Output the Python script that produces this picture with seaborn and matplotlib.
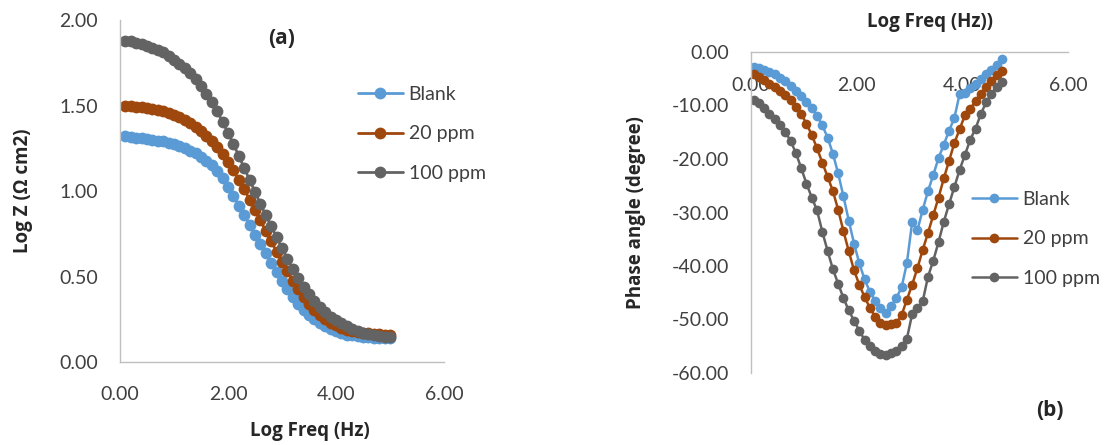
import matplotlib
matplotlib.use("Agg")
import matplotlib.pyplot as plt
from matplotlib.ticker import FormatStrFormatter
import seaborn as sns
import pandas as pd

# ---- Bode modulus data: log frequency vs log |Z| ----
logf_mod = [0.1, 0.2, 0.3, 0.4, 0.5, 0.6, 0.7, 0.8, 0.9, 1.0,
            1.1, 1.2, 1.3, 1.4, 1.5, 1.6, 1.7, 1.8, 1.9, 2.0,
            2.1, 2.2, 2.3, 2.4, 2.5, 2.6, 2.7, 2.8, 2.9, 3.0,
            3.1, 3.2, 3.3, 3.4, 3.5, 3.6, 3.7, 3.8, 3.9, 4.0,
            4.1, 4.2, 4.3, 4.4, 4.5, 4.6, 4.7, 4.8, 4.9, 5.0]
logz_blank = [1.32, 1.315, 1.31, 1.31, 1.305, 1.30, 1.295, 1.29, 1.28, 1.275,
              1.265, 1.25, 1.235, 1.22, 1.20, 1.175, 1.15, 1.115, 1.075, 1.025,
              0.97, 0.915, 0.86, 0.80, 0.745, 0.69, 0.635, 0.58, 0.525, 0.475,
              0.425, 0.38, 0.34, 0.305, 0.275, 0.25, 0.23, 0.21, 0.195, 0.18,
              0.17, 0.16, 0.155, 0.15, 0.147, 0.145, 0.143, 0.141, 0.14, 0.14]
logz_20 = [1.50, 1.497, 1.493, 1.49, 1.485, 1.48, 1.473, 1.465, 1.455, 1.445,
           1.43, 1.415, 1.395, 1.375, 1.35, 1.32, 1.29, 1.255, 1.215, 1.17,
           1.12, 1.065, 1.01, 0.95, 0.89, 0.83, 0.765, 0.705, 0.645, 0.585,
           0.53, 0.475, 0.425, 0.38, 0.34, 0.305, 0.275, 0.25, 0.23, 0.215,
           0.20, 0.19, 0.183, 0.177, 0.172, 0.168, 0.165, 0.162, 0.16, 0.158]
logz_100 = [1.88, 1.875, 1.868, 1.86, 1.85, 1.838, 1.825, 1.81, 1.79, 1.768,
            1.745, 1.718, 1.69, 1.655, 1.615, 1.57, 1.52, 1.465, 1.405, 1.34,
            1.275, 1.205, 1.135, 1.065, 0.995, 0.925, 0.86, 0.795, 0.73, 0.665,
            0.605, 0.545, 0.49, 0.44, 0.395, 0.355, 0.32, 0.29, 0.265, 0.245,
            0.228, 0.212, 0.195, 0.183, 0.172, 0.164, 0.158, 0.153, 0.149, 0.146]

# ---- Bode phase data: log frequency vs phase angle ----
logf_ph = [0.05, 0.15, 0.25, 0.35, 0.45, 0.55, 0.65, 0.75, 0.85, 0.95,
           1.05, 1.15, 1.25, 1.35, 1.45, 1.55, 1.65, 1.75, 1.85, 1.95,
           2.05, 2.15, 2.25, 2.35, 2.45, 2.55, 2.65, 2.75, 2.85, 2.95,
           3.05, 3.15, 3.25, 3.35, 3.45, 3.55, 3.65, 3.75, 3.85, 3.95,
           4.05, 4.15, 4.25, 4.35, 4.45, 4.55, 4.65, 4.75]
phase_blank = [-2.8, -3.0, -3.3, -3.7, -4.2, -4.8, -5.5, -6.3, -7.2, -8.2,
               -9.3, -10.5, -11.9, -13.7, -16.0, -19.0, -22.7, -27.0, -31.5, -35.8,
               -39.5, -42.5, -44.8, -46.5, -47.8, -48.7, -47.5, -46.0, -44.0, -39.5,
               -31.8, -33.3, -29.5, -26.0, -23.0, -19.8, -17.3, -14.7, -12.3, -7.8,
               -7.6, -6.8, -5.9, -5.0, -4.2, -3.3, -2.4, -1.4]
phase_20 = [-4.2, -4.6, -5.3, -5.9, -6.6, -7.3, -8.1, -9.0, -10.2, -11.6,
            -13.4, -15.5, -18.0, -20.7, -23.3, -26.0, -29.5, -33.5, -37.2, -40.8,
            -43.5, -45.8, -47.8, -49.5, -50.6, -51.0, -50.9, -50.6, -49.2, -46.3,
            -43.5, -40.4, -37.0, -33.8, -30.5, -27.2, -23.6, -20.3, -17.0, -14.4,
            -11.8, -10.6, -9.2, -7.8, -6.6, -5.4, -4.3, -3.6]
phase_100 = [-9.0, -9.6, -10.5, -11.5, -12.5, -13.6, -15.0, -16.6, -18.9, -21.7,
             -24.6, -27.2, -29.6, -33.6, -37.2, -40.6, -43.3, -46.0, -48.3, -50.2,
             -52.1, -53.8, -55.0, -55.9, -56.4, -56.6, -56.3, -55.8, -55.0, -53.6,
             -49.0, -47.8, -46.6, -42.0, -39.0, -35.5, -31.7, -28.4, -25.2, -22.0,
             -19.2, -16.4, -14.3, -11.6, -9.4, -7.8, -6.5, -5.6]

series_names = ["Blank", "20 ppm", "100 ppm"]
series_colors = ["#5B9BD5", "#9E480E", "#636363"]

sns.set_style("white")
plt.rcParams["font.family"] = ["Lato", "DejaVu Sans"]

TICK_COLOR = "#404040"
SPINE_COLOR = "#BFBFBF"
BOLD_FONT = ["Open Sans", "DejaVu Sans"]
bold_kw = dict(fontsize=13.5, fontweight="bold", family=BOLD_FONT)

fig = plt.figure(figsize=(11.08, 4.45), dpi=100)

# ---------------- (a) modulus ----------------
ax1 = fig.add_axes([120 / 1108, 83 / 445, 324 / 1108, 342 / 445])
mod_df = pd.DataFrame({
    "logf": logf_mod * 3,
    "logz": logz_blank + logz_20 + logz_100,
    "series": sum([[n] * len(logf_mod) for n in series_names], []),
})
for name, col in zip(series_names, series_colors):
    sub = mod_df[mod_df["series"] == name]
    sns.lineplot(data=sub, x="logf", y="logz", color=col, marker="o",
                 markersize=8.5, markeredgewidth=0, linewidth=2,
                 sort=False, label=name, ax=ax1)

ax1.set_xlim(0, 6)
ax1.set_ylim(0, 2)
ax1.set_xticks([0, 2, 4, 6])
ax1.set_yticks([0, 0.5, 1.0, 1.5, 2.0])
ax1.xaxis.set_major_formatter(FormatStrFormatter("%.2f"))
ax1.yaxis.set_major_formatter(FormatStrFormatter("%.2f"))
ax1.tick_params(axis="both", length=0, labelsize=14, colors=TICK_COLOR)
ax1.tick_params(axis="y", pad=16)
ax1.tick_params(axis="x", pad=17)
for s in ["top", "right"]:
    ax1.spines[s].set_visible(False)
for s in ["left", "bottom"]:
    ax1.spines[s].set_color(SPINE_COLOR)
    ax1.spines[s].set_linewidth(1)
ax1.set_xlabel("Log Freq (Hz)", **bold_kw)
ax1.set_ylabel("Log Z (Ω cm2)", **bold_kw)
ax1.xaxis.set_label_coords(0.586, -0.172)
ax1.yaxis.set_label_coords(-0.27, 0.5)
ax1.text(0.5, 0.945, "(a)", transform=ax1.transAxes, fontsize=15,
         fontweight="bold", family=BOLD_FONT, ha="center", va="center")
ax1.legend(loc="upper left", bbox_to_anchor=(358 / 1108, 1 - 86 / 445),
           bbox_transform=fig.transFigure, frameon=False, fontsize=14,
           handlelength=2.3, handletextpad=0.3, labelspacing=1.15,
           borderpad=0, borderaxespad=0, labelcolor=TICK_COLOR)

# ---------------- (b) phase ----------------
ax2 = fig.add_axes([751 / 1108, 72 / 445, 317 / 1108, 321 / 445])
ph_df = pd.DataFrame({
    "logf": logf_ph * 3,
    "phase": phase_blank + phase_20 + phase_100,
    "series": sum([[n] * len(logf_ph) for n in series_names], []),
})
for name, col in zip(series_names, series_colors):
    sub = ph_df[ph_df["series"] == name]
    sns.lineplot(data=sub, x="logf", y="phase", color=col, marker="o",
                 markersize=7, markeredgewidth=0, linewidth=1.8,
                 sort=False, label=name, ax=ax2)

ax2.set_xlim(0, 6)
ax2.set_ylim(-60, 0)
ax2.set_xticks([0, 2, 4, 6])
ax2.set_yticks([0, -10, -20, -30, -40, -50, -60])
ax2.xaxis.set_major_formatter(FormatStrFormatter("%.2f"))
ax2.yaxis.set_major_formatter(FormatStrFormatter("%.2f"))
ax2.tick_params(axis="both", length=0, labelsize=14, colors=TICK_COLOR)
ax2.tick_params(axis="y", pad=16)
ax2.tick_params(axis="x", top=False, bottom=False, labeltop=True,
                labelbottom=False, pad=-30)
for s in ["bottom", "right"]:
    ax2.spines[s].set_visible(False)
for s in ["left", "top"]:
    ax2.spines[s].set_color(SPINE_COLOR)
    ax2.spines[s].set_linewidth(1)
ax2.set_xlabel("Log Freq (Hz))", **bold_kw)
ax2.set_ylabel("Phase angle (degree)", **bold_kw)
ax2.xaxis.set_label_coords(0.565, 1.125)
ax2.yaxis.set_label_coords(-0.33, 0.5)
fig.text(1050 / 1108, 1 - 410 / 445, "(b)", fontsize=15, fontweight="bold",
         family=BOLD_FONT, ha="center", va="center")
ax2.legend(loc="upper left", bbox_to_anchor=(972 / 1108, 1 - 191 / 445),
           bbox_transform=fig.transFigure, frameon=False, fontsize=14,
           handlelength=2.3, handletextpad=0.3, labelspacing=1.15,
           borderpad=0, borderaxespad=0, labelcolor=TICK_COLOR)

fig.savefig("out.png", dpi=100)
